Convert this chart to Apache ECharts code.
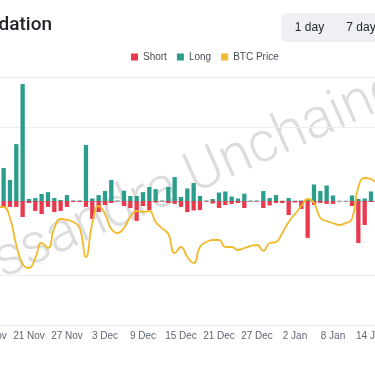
<!DOCTYPE html>
<html><head><meta charset="utf-8">
<script src="https://cdn.jsdelivr.net/npm/echarts@6/dist/echarts.min.js"></script>
<style>html,body{margin:0;padding:0;background:#fff;overflow:hidden;width:375px;height:375px;position:relative}
#c{position:absolute;left:-40px;top:0;width:455px;height:375px}</style>
</head><body><div id="c"></div>
<script>
const dates = ['15 Nov','16 Nov','17 Nov','18 Nov','19 Nov','20 Nov','21 Nov','22 Nov','23 Nov','24 Nov','25 Nov','26 Nov','27 Nov','28 Nov','29 Nov','30 Nov',
  '1 Dec','2 Dec','3 Dec','4 Dec','5 Dec','6 Dec','7 Dec','8 Dec','9 Dec','10 Dec','11 Dec','12 Dec','13 Dec','14 Dec','15 Dec','16 Dec','17 Dec','18 Dec','19 Dec','20 Dec','21 Dec','22 Dec','23 Dec','24 Dec','25 Dec','26 Dec','27 Dec','28 Dec','29 Dec','30 Dec','31 Dec',
  '1 Jan','2 Jan','3 Jan','4 Jan','5 Jan','6 Jan','7 Jan','8 Jan','9 Jan','10 Jan','11 Jan','12 Jan','13 Jan','14 Jan','15 Jan'];
const shortLiq = [-6,-10,-8,-8,-8,-21.7,-2.7,-13.5,-17.6,-8,-15,-13.5,-8,-1.4,-1.4,-8,
  -24.4,-15,-5.4,-2.7,-0.7,-6.8,-9.5,-27,-6.8,-12.2,-2,-0.7,-2.7,-4,-8,-15,-12.9,-12.2,-0.7,-3.4,-9.5,-5.4,-4,-2.7,-9.5,-0.7,-0.7,-9.5,-6,-2.7,-2.7,
  -19,-2,-10.8,-50,-5.4,-2.7,-4,-4,-0.4,-0.4,-6.8,-57,-32.5,-1.4,-3];
const longLiq = [20,35,44.7,28.5,77,158.5,2.7,4,9.5,12,4,1.4,8,0.7,0.7,76,
  3.4,8,13.5,28.5,0.7,14,6.8,6.8,12,19,16,0.7,19,32.5,5.4,17,24.4,6.8,0.7,2.7,11.5,12.9,6,3.4,10,0.7,0.7,13.5,4,8,0.4,
  4,0.4,0.7,1.4,22.4,13.5,21,7.5,0.4,0.4,7.5,2.7,3.4,12.9,6];
const btcPrice = [89030,89030,89030,87260,82900,79840,79190,80810,83230,82420,85640,87100,86940,86610,85640,80970,
  86450,89190,87900,85480,84840,85640,87420,88390,88230,88390,86610,85640,84680,81610,82580,80970,80000,82580,83390,83710,83710,82580,82580,82100,82420,82740,82900,81940,83230,83390,84840,
  86610,87900,89190,90320,89680,87260,86770,86450,86130,86450,87100,92260,93710,93550,92580];
const legendNames = ['Short','Long','BTC Price'];
const colors = {short:'#E8394D', long:'#2A9D8C', price:'#F0BA2C'};

const font = "'Liberation Sans',Arial,sans-serif";
const OX = 40; // container offset (chart is a crop of a wider view)
const chart = echarts.init(document.getElementById('c'));
const rot = 24*Math.PI/180;
const wmFont = "300 56px Roboto, 'Liberation Sans', sans-serif";
chart.setOption({
  animation:false,
  textStyle:{fontFamily:font},
  legend:{data:legendNames, left:126+OX, top:47, icon:'rect', itemWidth:7, itemHeight:7, itemGap:10,
    textStyle:{fontSize:10, color:'#474d57', fontFamily:font}},
  grid:{left:OX-12.2, right:34.5, top:77, bottom:50, containLabel:false},
  xAxis:{type:'category', data:dates, boundaryGap:true,
    axisLine:{lineStyle:{color:'#e6e8ea'}}, axisTick:{show:false},
    axisLabel:{interval:5, margin:6, fontSize:10, color:'#5e6673', fontFamily:font}},
  yAxis:[
    {type:'value', min:-168, max:168, splitNumber:3, axisLabel:{show:false}, axisLine:{show:false}, axisTick:{show:false},
      splitLine:{lineStyle:{color:'#eeeeee', width:1}}},
    {type:'value', min:70000, max:110000, show:false, splitLine:{show:false}}
  ],
  graphic:[
    {type:'text', z:0, x:OX+188, y:211, rotation:rot, silent:true,
      style:{text:'Cassandra', font:wmFont, fill:'#dcdcdc', textAlign:'right', textVerticalAlign:'bottom'}},
    {type:'text', z:0, x:OX+200, y:206, rotation:rot, silent:true,
      style:{text:'Unchained', font:wmFont, fill:'#dcdcdc', textAlign:'left', textVerticalAlign:'bottom'}},
    {type:'text', x:OX+52, y:25, silent:true,
      style:{text:'Liquidation', font:"500 19px Roboto, 'Liberation Sans', sans-serif", fill:'#1e2329', textAlign:'right', textVerticalAlign:'middle'}},
    {type:'rect', x:OX+281, y:13, silent:true, shape:{width:120, height:29, r:6}, style:{fill:'#eef0f3'}},
    {type:'text', x:OX+309.5, y:28, silent:true,
      style:{text:'1 day', font:"12px "+font, fill:'#1e2329', textAlign:'center', textVerticalAlign:'middle'}},
    {type:'text', x:OX+361, y:28, silent:true,
      style:{text:'7 day', font:"12px "+font, fill:'#1e2329', textAlign:'center', textVerticalAlign:'middle'}}
  ],
  series:[
    {name:'Short', type:'bar', stack:'liq', data:shortLiq, barWidth:4.3, itemStyle:{color:colors.short}, z:3},
    {name:'Long', type:'bar', stack:'liq', data:longLiq, barWidth:4.3, itemStyle:{color:colors.long}, z:3,
      markLine:{silent:true, symbol:'none', label:{show:false}, z:1,
        lineStyle:{color:'#aab0b8', type:[4,3], width:1}, data:[{yAxis:0}]}},
    {name:'BTC Price', type:'line', yAxisIndex:1, data:btcPrice, smooth:true, symbol:'none', z:4,
      lineStyle:{color:colors.price, width:1.8}, itemStyle:{color:colors.price}}
  ]
});
</script></body></html>
